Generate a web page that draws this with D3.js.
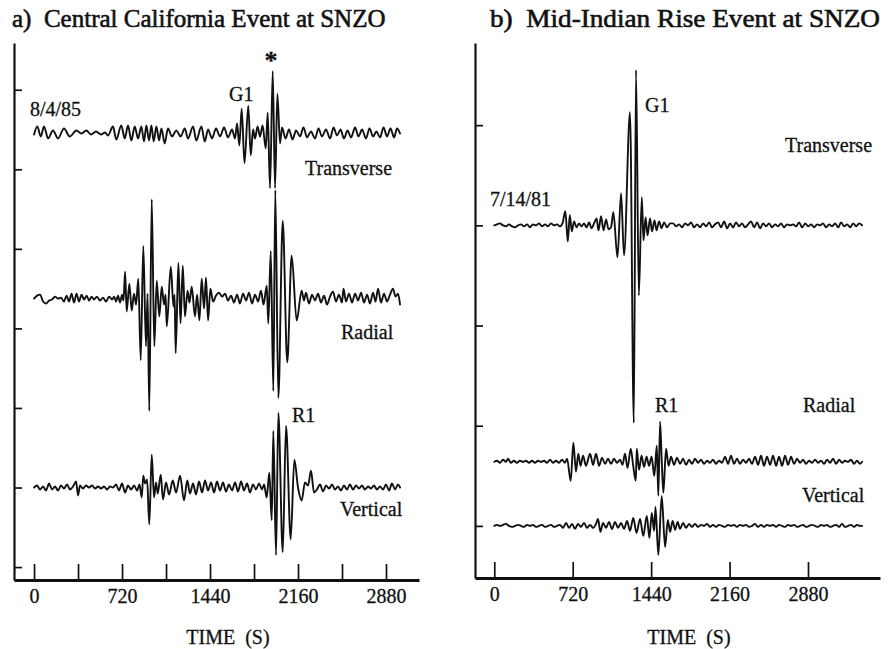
<!DOCTYPE html>
<html>
<head>
<meta charset="utf-8">
<script src="https://cdn.jsdelivr.net/npm/d3@7"></script>
<style>
  body { margin: 0; background: #fff; }
  svg { display: block; }
  text { font-family: "Liberation Serif", "Times New Roman", serif; fill: #111; white-space: pre; }
</style>
</head>
<body>
<svg id="fig" width="891" height="649"></svg>
<script>
// ---- Time axis ticks (seconds) ----
const ticksA = [0, 360, 720, 1080, 1440, 1800, 2160, 2520, 2880];
const ticksB = [0, 720, 1440, 2160, 2880];
const tickLabels = [0, 720, 1440, 2160, 2880];

// ---- Amplitude axis ticks (trace units) ----
const ampTicksA = [0, 80, 160, 240, 320, 400, 480];
const ampTicksB = [0, 100, 200, 300, 400];

// ---- Trace offsets (trace units) ----
const offsetsA = { transverse: 436, radial: 270, vertical: 80 };
const offsetsB = { transverse: 300, radial: 64, vertical: 0 };

// ---- a) Central California event, 8/4/85: [time (s), amplitude] ----
const caTransverse = [[0,-1],[27,7],[55,-3],[82,7],[115,-5],[155,3],[196,-5],[245,5],[292,-3],[346,3],[387,0],[428,3],[466,-1],[507,2],[548,-1],[581,1],[605,-2],[646,7],[673,-6],[714,8],[742,-5],[769,8],[796,-7],[824,7],[851,-5],[878,7],[900,-8],[919,8],[941,-7],[960,8],[979,-8],[1001,7],[1023,-7],[1042,5],[1069,-10],[1096,5],[1129,-3],[1164,3],[1200,-3],[1233,5],[1260,-5],[1301,7],[1328,-7],[1369,7],[1397,-8],[1424,4],[1456,-5],[1489,5],[1522,-3],[1555,6],[1587,-4],[1620,4],[1645,-5],[1661,10],[1680,-12],[1699,25],[1722,-30],[1753,28],[1773,-22],[1792,4],[1808,-5],[1829,7],[1849,-3],[1870,8],[1896,-15],[1912,21],[1931,-55],[1953,63],[1972,-55],[1991,40],[2013,-10],[2029,6],[2058,-5],[2086,4],[2115,-6],[2144,3],[2176,-3],[2205,6],[2234,-4],[2266,2],[2299,-5],[2328,5],[2356,-3],[2389,4],[2422,-5],[2451,6],[2479,-2],[2508,4],[2536,-5],[2565,3],[2594,-4],[2627,6],[2655,-3],[2684,4],[2716,-5],[2745,5],[2774,-3],[2802,2],[2831,-4],[2860,6],[2888,-3],[2917,5],[2946,-4],[2970,5],[2995,0]];

const caRadial = [[0,0],[25,3],[49,4],[74,-3],[98,-5],[123,-2],[147,-1],[172,2],[196,0],[221,1],[245,-3],[266,3],[286,-3],[307,5],[327,-4],[348,5],[368,-3],[389,4],[409,-1],[430,3],[450,-2],[470,2],[491,-1],[515,2],[540,-2],[565,1],[589,-3],[614,2],[638,-1],[655,2],[671,-3],[687,3],[704,-4],[720,4],[732,-2],[745,27],[758,-13],[780,15],[799,-12],[818,5],[835,-6],[853,20],[873,-62],[894,53],[916,-48],[929,5],[943,-113],[963,100],[984,-48],[1004,18],[1025,-18],[1045,12],[1064,-6],[1076,4],[1086,-28],[1119,32],[1141,-8],[1150,4],[1159,-55],[1181,36],[1199,-25],[1217,33],[1235,-18],[1256,8],[1272,-4],[1290,12],[1317,-18],[1334,4],[1353,-22],[1372,20],[1391,-10],[1407,21],[1424,-22],[1443,10],[1465,-3],[1489,3],[1514,6],[1538,2],[1563,5],[1587,-2],[1612,3],[1636,-4],[1661,4],[1685,-5],[1710,5],[1735,-2],[1759,6],[1784,-5],[1808,4],[1833,-3],[1857,8],[1878,-6],[1904,13],[1917,-25],[1937,48],[1958,-93],[1974,109],[1999,-100],[2035,78],[2072,-64],[2108,43],[2149,-22],[2190,8],[2209,-2],[2225,6],[2250,-5],[2275,4],[2299,-2],[2324,5],[2348,-4],[2373,3],[2397,-6],[2422,2],[2446,7],[2471,-3],[2495,4],[2520,-4],[2532,10],[2553,-3],[2577,5],[2602,-4],[2627,5],[2651,-2],[2676,6],[2700,-4],[2725,4],[2749,-5],[2774,6],[2794,-3],[2815,10],[2839,-4],[2864,5],[2888,-3],[2913,4],[2937,10],[2958,2],[2978,5],[2995,-6]];

const caVertical = [[0,0],[25,2],[49,-2],[74,1],[98,-3],[123,4],[147,-2],[172,1],[196,-3],[221,2],[245,-1],[270,3],[295,-2],[319,1],[344,6],[360,-8],[376,2],[401,-1],[425,2],[450,0],[475,2],[499,-1],[524,1],[548,-1],[573,1],[597,-2],[622,1],[646,0],[671,3],[695,-3],[720,4],[745,-5],[769,2],[794,-2],[818,2],[843,-3],[863,3],[881,-10],[894,12],[908,4],[925,8],[943,-37],[963,33],[982,-10],[998,5],[1012,-6],[1037,13],[1055,-12],[1080,5],[1105,-7],[1135,7],[1162,-5],[1195,12],[1227,-13],[1254,7],[1276,-6],[1301,4],[1325,-7],[1350,6],[1375,-5],[1399,7],[1424,-3],[1448,5],[1473,-5],[1497,6],[1522,-3],[1546,5],[1571,-4],[1595,3],[1620,-3],[1645,5],[1669,-4],[1694,6],[1718,-3],[1743,4],[1767,-5],[1792,3],[1816,-2],[1841,4],[1865,-2],[1882,3],[1904,-10],[1925,15],[1945,-33],[1958,57],[1980,-68],[1999,75],[2035,-65],[2062,62],[2100,-52],[2130,28],[2160,0],[2190,-13],[2217,5],[2242,2],[2266,17],[2291,-5],[2315,-2],[2340,3],[2365,-4],[2389,2],[2414,-1],[2438,3],[2463,-2],[2487,1],[2512,-3],[2536,2],[2561,-2],[2585,3],[2610,-2],[2635,2],[2659,-1],[2684,2],[2708,-2],[2733,1],[2757,-1],[2782,2],[2806,-2],[2831,1],[2855,-2],[2880,3],[2905,-3],[2929,4],[2954,-2],[2978,3],[2995,0]];

// ---- b) Mid-Indian Rise event, 7/14/81: [time (s), amplitude] ----
const mirTransverse = [[0,0],[25,1],[52,2],[80,0],[107,-1],[135,1],[163,-1],[190,-2],[218,0],[245,1],[273,-1],[300,1],[328,-2],[355,1],[383,0],[411,2],[438,-1],[466,1],[493,-1],[521,2],[548,0],[576,1],[603,-1],[626,2],[652,14],[675,-16],[693,10],[712,-6],[732,4],[755,-2],[778,2],[801,-1],[824,2],[847,-2],[870,3],[893,-3],[916,2],[939,7],[957,-5],[980,9],[1003,-5],[1026,6],[1049,-4],[1072,-2],[1093,13],[1131,-32],[1164,32],[1191,-30],[1246,113],[1281,-197],[1301,155],[1327,-70],[1354,28],[1370,-15],[1389,8],[1407,-10],[1430,7],[1448,-6],[1471,5],[1490,-5],[1513,4],[1536,-3],[1559,3],[1586,-2],[1614,2],[1641,2],[1669,-1],[1696,1],[1724,-2],[1751,2],[1779,0],[1806,3],[1834,-2],[1862,1],[1889,-2],[1917,2],[1944,-1],[1972,3],[1999,-2],[2027,1],[2054,3],[2082,-2],[2110,4],[2137,-3],[2165,2],[2192,-2],[2220,3],[2247,-1],[2275,2],[2302,-2],[2330,1],[2358,4],[2385,-2],[2413,3],[2440,-3],[2468,2],[2495,-1],[2523,2],[2550,-2],[2578,1],[2606,-1],[2633,2],[2661,-2],[2688,1],[2716,0],[2743,1],[2771,-1],[2798,3],[2826,-2],[2854,2],[2881,-1],[2909,1],[2936,-2],[2964,1],[2991,0],[3019,2],[3046,-2],[3074,1],[3102,-1],[3129,2],[3157,-2],[3184,3],[3212,-1],[3239,1],[3267,-2],[3294,2],[3322,-1],[3350,2],[3377,0]];

const mirRadial = [[0,0],[25,1],[52,-1],[80,2],[107,0],[126,3],[153,-1],[181,1],[208,-1],[236,1],[263,0],[291,1],[319,-1],[346,1],[374,-1],[401,1],[429,0],[457,1],[484,-1],[512,2],[539,-1],[567,1],[594,-1],[622,2],[649,-1],[668,3],[702,-19],[726,19],[750,-10],[771,8],[792,-4],[815,6],[842,-4],[879,8],[907,-3],[934,8],[962,-4],[989,4],[1017,-2],[1044,3],[1072,-2],[1099,3],[1127,-1],[1154,2],[1177,-3],[1200,8],[1223,-6],[1253,13],[1274,-3],[1299,-19],[1308,13],[1329,-8],[1352,6],[1375,-5],[1398,5],[1421,-4],[1444,5],[1469,-14],[1492,16],[1506,-34],[1522,40],[1536,5],[1552,-31],[1577,13],[1600,-4],[1623,5],[1650,-3],[1678,4],[1705,-2],[1733,3],[1760,-3],[1788,2],[1815,-2],[1843,3],[1871,-1],[1898,2],[1926,-2],[1953,1],[1981,-1],[2008,2],[2036,-2],[2063,1],[2091,-1],[2118,5],[2146,-2],[2173,6],[2201,-2],[2228,3],[2256,-2],[2284,2],[2311,-1],[2339,3],[2366,-2],[2394,5],[2421,-3],[2449,6],[2476,-4],[2504,5],[2532,-3],[2559,6],[2587,-4],[2614,5],[2642,-4],[2669,6],[2697,-3],[2724,5],[2752,-2],[2780,3],[2807,-1],[2835,2],[2862,-2],[2890,1],[2917,-1],[2945,2],[2972,-1],[3000,1],[3027,-2],[3055,2],[3082,-1],[3110,3],[3138,-2],[3165,2],[3193,-1],[3220,1],[3248,0],[3275,2],[3303,-2],[3330,1],[3358,-2],[3377,0]];

const mirVertical = [[0,0],[25,1],[52,0],[80,1],[107,2],[135,0],[163,-1],[190,0],[218,1],[245,0],[273,-1],[300,1],[328,0],[355,1],[383,-1],[411,0],[438,1],[466,-1],[493,0],[521,1],[548,-1],[576,0],[603,1],[631,-2],[659,3],[686,-2],[714,2],[741,-3],[769,2],[796,-1],[824,3],[851,-2],[879,1],[907,-2],[934,2],[952,7],[975,-6],[998,3],[1026,-2],[1053,4],[1081,-3],[1109,4],[1136,-2],[1164,3],[1191,-3],[1219,5],[1246,-5],[1276,8],[1306,-7],[1338,7],[1368,-10],[1400,10],[1424,-12],[1446,13],[1467,-5],[1480,19],[1506,-29],[1537,30],[1568,-21],[1593,6],[1614,-6],[1637,5],[1660,-4],[1683,4],[1705,-3],[1733,3],[1760,-2],[1788,2],[1815,-1],[1843,2],[1871,-1],[1898,1],[1926,0],[1953,2],[1981,-1],[2008,1],[2036,-1],[2063,1],[2091,0],[2118,-1],[2146,1],[2173,0],[2201,1],[2228,-1],[2256,1],[2284,0],[2311,1],[2339,-1],[2366,0],[2394,2],[2421,-1],[2449,1],[2476,-1],[2504,1],[2532,0],[2559,1],[2587,-1],[2614,1],[2642,0],[2669,-1],[2697,1],[2724,0],[2752,1],[2780,-1],[2807,0],[2835,1],[2862,-1],[2890,0],[2917,1],[2945,0],[2972,-1],[3000,1],[3027,0],[3055,1],[3082,-1],[3110,0],[3138,1],[3165,-1],[3193,2],[3220,-1],[3248,0],[3275,1],[3303,-1],[3330,1],[3358,0],[3377,0]];

// ---- Drawing ----
const svg = d3.select("#fig");
const INK = "#111";

function drawPanel(p) {
  const g = svg.append("g");
  const x = d3.scaleLinear().domain(p.tDomain).range(p.xRange);
  const y = d3.scaleLinear().domain(p.aDomain).range(p.yRange);

  // time axis: ticks point up into the plot
  const xAxis = d3.axisBottom(x)
    .tickValues(p.tTicks)
    .tickSizeInner(-16)
    .tickSizeOuter(0)
    .tickPadding(9)
    .tickFormat(d => tickLabels.includes(d) ? String(d) : "");
  const gx = g.append("g").attr("transform", `translate(0,${p.yRange[0]})`).call(xAxis);
  gx.select(".domain").attr("stroke", INK).attr("stroke-width", 3);
  gx.selectAll(".tick line").attr("stroke", INK).attr("stroke-width", 1.7);
  gx.selectAll(".tick text").attr("fill", INK).attr("font-size", 20)
    .attr("stroke", INK).attr("stroke-width", 0.3);

  // amplitude axis: unlabeled ticks pointing right
  const yAxis = d3.axisLeft(y)
    .tickValues(p.aTicks)
    .tickSizeInner(-8)
    .tickSizeOuter(0)
    .tickFormat("");
  const gy = g.append("g").attr("transform", `translate(${p.xRange[0]},0)`).call(yAxis);
  gy.select(".domain").attr("stroke", INK).attr("stroke-width", 2.2);
  gy.selectAll(".tick line").attr("stroke", INK).attr("stroke-width", 1.7);

  // seismogram traces
  p.traces.forEach(tr => {
    const line = d3.line()
      .x(d => x(d[0]))
      .y(d => y(tr.offset + d[1]))
      .curve(d3.curveMonotoneX);
    g.append("path")
      .datum(tr.data)
      .attr("d", line)
      .attr("fill", "none")
      .attr("stroke", INK)
      .attr("stroke-width", 1.9)
      .attr("stroke-linejoin", "round")
      .attr("stroke-linecap", "round");
  });

  // title
  const title = g.append("text")
    .attr("x", p.title.x).attr("y", 27)
    .attr("font-size", 25)
    .attr("stroke", INK).attr("stroke-width", 0.6)
    .text(p.title.text);
  if (p.title.width) {
    title.attr("textLength", p.title.width).attr("lengthAdjust", "spacingAndGlyphs");
  }

  // annotations
  p.notes.forEach(n => {
    g.append("text")
      .attr("x", n.x).attr("y", n.y)
      .attr("font-size", n.size || 20)
      .attr("text-anchor", n.anchor || "start")
      .attr("font-weight", n.weight || "normal")
      .attr("stroke", INK).attr("stroke-width", 0.3)
      .text(n.text);
  });

  // axis title
  g.append("text")
    .attr("x", p.xLabelX).attr("y", 644)
    .attr("font-size", 20)
    .attr("text-anchor", "middle")
    .attr("stroke", INK).attr("stroke-width", 0.3)
    .text("TIME  (S)");
}

drawPanel({
  tDomain: [-164, 3150], xRange: [14, 419],
  aDomain: [-13, 527], yRange: [580, 43],
  tTicks: ticksA, aTicks: ampTicksA,
  traces: [
    { data: caTransverse, offset: offsetsA.transverse },
    { data: caRadial, offset: offsetsA.radial },
    { data: caVertical, offset: offsetsA.vertical }
  ],
  title: { x: 12, text: "a)  Central California Event at SNZO" },
  notes: [
    { text: "8/4/85", x: 30, y: 116 },
    { text: "G1", x: 229, y: 101 },
    { text: "*", x: 271, y: 69, size: 26, anchor: "middle", weight: "bold" },
    { text: "Transverse", x: 305, y: 175 },
    { text: "Radial", x: 341, y: 339 },
    { text: "R1", x: 292, y: 422 },
    { text: "Vertical", x: 340, y: 516 }
  ],
  xLabelX: 228
});

drawPanel({
  tDomain: [-177, 3541], xRange: [475, 880],
  aDomain: [-52, 482], yRange: [578, 43],
  tTicks: ticksB, aTicks: ampTicksB,
  traces: [
    { data: mirTransverse, offset: offsetsB.transverse },
    { data: mirRadial, offset: offsetsB.radial },
    { data: mirVertical, offset: offsetsB.vertical }
  ],
  title: { x: 490, text: "b)  Mid-Indian Rise Event at SNZO", width: 390 },
  notes: [
    { text: "G1", x: 645, y: 112 },
    { text: "Transverse", x: 785, y: 152 },
    { text: "7/14/81", x: 490, y: 206 },
    { text: "R1", x: 655, y: 412 },
    { text: "Radial", x: 803, y: 412 },
    { text: "Vertical", x: 802, y: 502 }
  ],
  xLabelX: 689
});
</script>
</body>
</html>
